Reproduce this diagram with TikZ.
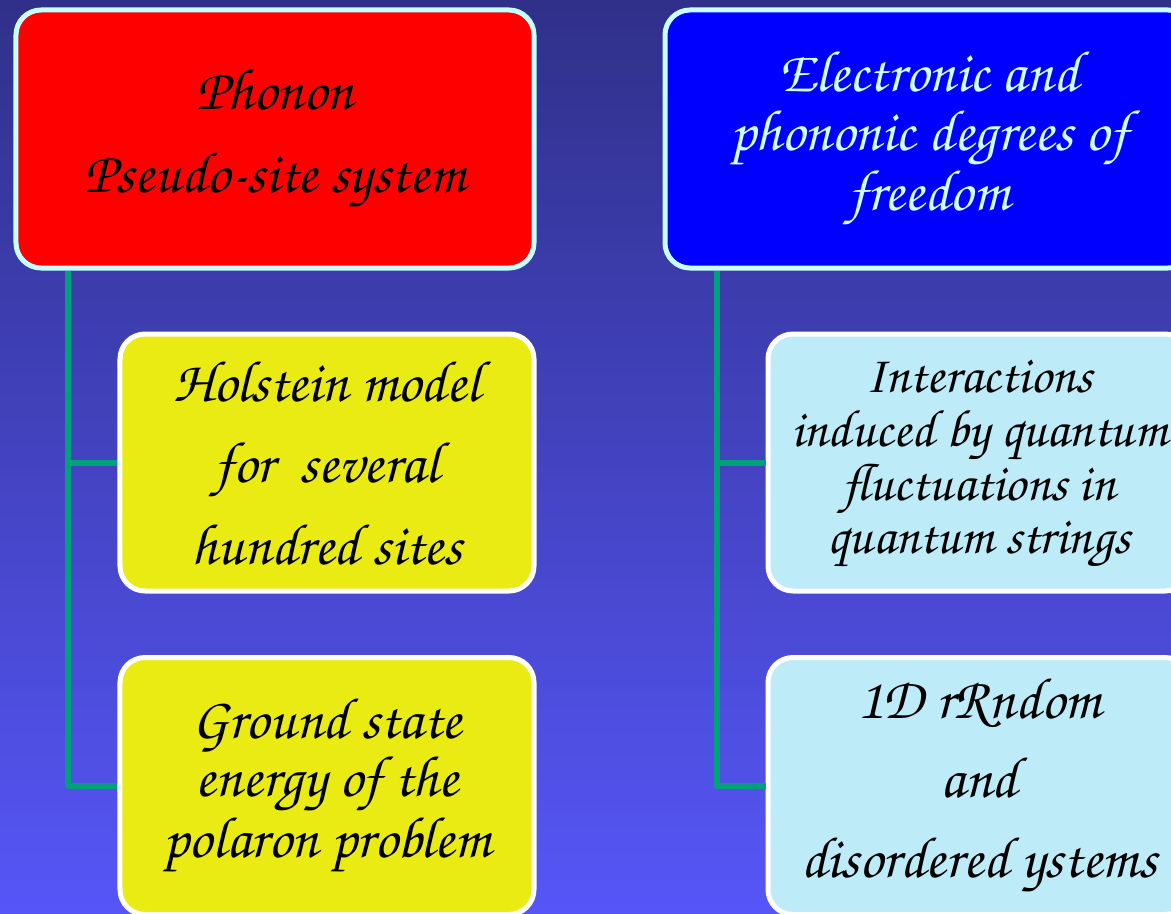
\documentclass[tikz,border=0pt]{standalone}
\usepackage[T1]{fontenc}
\usetikzlibrary{calc}
\newcommand\chanc{\fontencoding{T1}\fontfamily{pzc}\fontseries{mb}\fontshape{it}\selectfont}
\definecolor{bgtop}{HTML}{30308A}
\definecolor{bgbot}{HTML}{5656F8}
\definecolor{frameC}{HTML}{C8FFFF}
\definecolor{boxred}{HTML}{FF0000}
\definecolor{boxblue}{HTML}{0000FF}
\definecolor{boxyellow}{HTML}{EBEB14}
\definecolor{boxcyan}{HTML}{BEEBF8}
\definecolor{linkgreen}{HTML}{00A07A}
\definecolor{paletext}{HTML}{CCFFFF}
\tikzset{
  card/.style={rectangle, rounded corners=25bp, line width=5bp, inner sep=0pt,
    align=center},
  headbox/.style={card, draw=frameC, minimum width=#1, minimum height=258bp},
  subbox/.style={card, draw=white, minimum width=#1, minimum height=257bp},
  txt/.style 2 args={font=\chanc\fontsize{#1}{#2}\selectfont},
  link/.style={draw=linkgreen, line width=6bp, line join=round},
}
\begin{document}
\begin{tikzpicture}[x=1bp,y=-1bp]
  \useasboundingbox (0,0) rectangle (1171,914);
  \clip (0,0) rectangle (1171,914);
  \shade[top color=bgtop, bottom color=bgbot] (0,0) rectangle (1171,914);

  % column heads
  \node[headbox=518bp, fill=boxred, txt={58.5}{83}] (phonon) at (275,139)
    {Phonon\\Pseudo-site system};
  \node[headbox=528bp, fill=boxblue, text=paletext, txt={58.5}{59}] (elec) at (929,139)
    {Electronic and\\phononic degrees of\\freedom};

  % left column items
  \node[subbox=414bp, fill=boxyellow, txt={58.5}{82}] (holst) at (327,462.5)
    {Holstein model\\for\ \ several\\hundred sites};
  \node[subbox=414bp, fill=boxyellow, txt={58.5}{58.5}] (ground) at (327,786)
    {Ground state\\energy of the\\polaron problem};

  % right column items
  \node[subbox=422bp, fill=boxcyan, txt={53}{54}] (inter) at (979,462.5)
    {\raisebox{-5bp}{\begin{tabular}{@{}c@{}}Interactions\\[-0.2bp]induced by quantum\\fluctuations in\\quantum strings\end{tabular}}};
  \node[subbox=422bp, fill=boxcyan, txt={58.5}{80}] (rand) at (979,786)
    {1D rRndom\\and\\disordered ystems};

  % tree connectors
  \coordinate (lroot) at ($(phonon.south west)+(55,0)$);
  \coordinate (rroot) at ($(elec.south west)+(54,0)$);
  \draw[link] (lroot) |- (holst.west);
  \draw[link] (lroot) |- (ground.west);
  \draw[link] (rroot) |- (inter.west);
  \draw[link] (rroot) |- (rand.west);
\end{tikzpicture}
\end{document}
